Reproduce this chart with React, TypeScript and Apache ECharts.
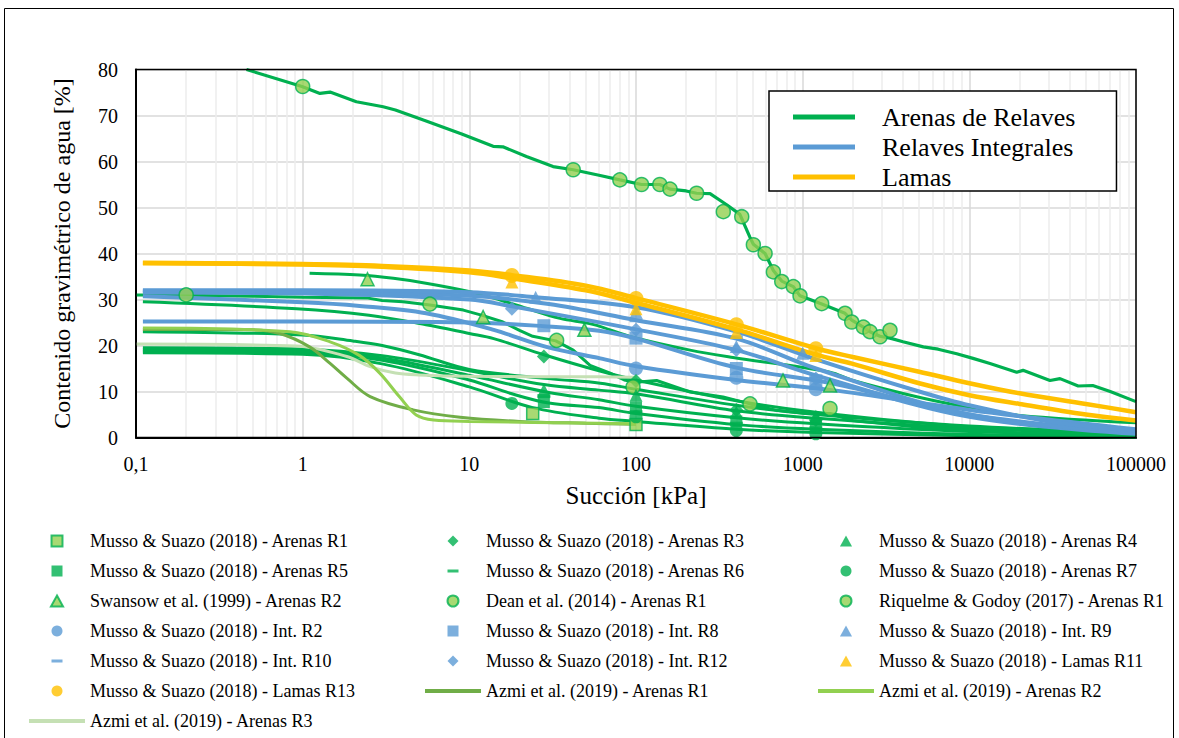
import React, { useEffect, useRef } from 'react';
import * as echarts from 'echarts';

const FONT = 'Liberation Serif';
const GREEN = '#00B050';
const LGREEN = '#92D050';
const BLUE = '#5B9BD5';
const YELLOW = '#FFC000';
const AZ1 = '#70AD47';
const AZ2 = '#92D050';
const AZ3 = '#C5E0B4';

// ---- axis ticks ----
const xTicks = [0.1, 1, 10, 100, 1000, 10000, 100000];
const yTicks = [0, 10, 20, 30, 40, 50, 60, 70, 80];
const minorX = [0.2, 0.3, 0.4, 0.5, 0.6, 0.7, 0.8, 0.9, 2, 3, 4, 5, 6, 7, 8, 9, 20, 30, 40, 50, 60, 70, 80, 90,
  200, 300, 400, 500, 600, 700, 800, 900, 2000, 3000, 4000, 5000, 6000, 7000, 8000, 9000,
  20000, 30000, 40000, 50000, 60000, 70000, 80000, 90000];

// ---- fitted curves: Arenas de Relaves (green) ----
const fitDean = [[0.46, 80], [0.99, 76.3], [1.27, 74.8], [1.46, 75.1], [2.1, 73], [3.04, 71.9], [3.6, 71.2], [5.3, 69], [9, 66], [13.9, 63.3], [15.9, 63.2], [22, 61.1], [31.8, 58.9], [42, 58.2], [60, 57], [80, 56], [108, 55], [139, 55], [160, 54], [200, 53.6], [231, 53.1], [278, 53], [350, 50.6], [420, 48.5], [483, 43.5], [506, 42], [595, 40], [667, 36.3], [749, 34], [879, 32.8], [964, 30.8], [1107, 30], [1301, 29], [1796, 27], [1970, 25.5], [2312, 24], [2535, 23], [2911, 22], [3342, 21.6], [4000, 20.8], [5297, 19.7], [6500, 19.2], [8399, 18.2], [10520, 17.2], [13300, 16.1], [19230, 14.2], [21000, 14.6], [30480, 12.4], [35000, 12.8], [45000, 11.2], [55000, 11.3], [70000, 10], [100000, 7.8]];
const fitWiggly = [[0.1, 31], [0.2, 30.9], [0.5, 30.7], [1, 30.5], [2.47, 30.3], [3, 29.8], [4, 29.5], [5.8, 28.8], [9.2, 27.7], [12.1, 26.5], [15.9, 25.1], [20, 23.3], [24, 22], [33, 21], [42, 19], [53, 15.7], [70, 14], [85, 12.5], [100, 12], [133, 12.4], [211, 9.9], [333, 8.8], [483, 7.3], [698, 5.9], [1057, 5.2], [1459, 5.2], [2004, 3.7], [5000, 2.2], [20000, 1], [100000, 0.4]];
const fitC3 = [[1.1, 35.7], [2.2, 35.3], [3.5, 34.6], [5.6, 33.5], [10.1, 31.7], [15.3, 29.9], [22, 28.1], [35, 25.9], [55, 24.6], [96, 21.8], [211, 19], [382, 17.4], [1459, 14.2], [2004, 12.4], [5058, 8.7], [10100, 6.5], [20140, 4.8], [100000, 3.2]];
const fitArenasR3 = [[0.11, 29.5], [0.92, 28], [2.5, 26.6], [5.5, 24.5], [10, 22.6], [14, 21.5], [28, 18], [60, 14.5], [100, 12.5], [400, 8], [1200, 5.5], [10000, 2.3], [100000, 0.8]];
const fitArenasR5 = [[0.11, 23], [1, 22.3], [2, 21], [3, 20], [5, 18], [10, 14.8], [30, 12.8], [61, 11.8], [100, 10.5], [400, 7], [1200, 5], [10000, 2.5], [100000, 1]];
const fitArenasR4 = [[0.11, 19.5], [1, 19.2], [3, 17.8], [10, 14.5], [28, 11.5], [60, 10.3], [100, 9.5], [400, 5.8], [1200, 4.2], [10000, 2], [100000, 0.8]];
const fitArenasR6 = [[0.11, 19.1], [1, 18.9], [3, 17.3], [10, 13.5], [30, 9.8], [60, 8.2], [100, 6.8], [400, 4.3], [1200, 3], [10000, 1.3], [100000, 0.5]];
const fitArenasR7 = [[0.11, 18.8], [1, 18.5], [3, 16.8], [10, 12.5], [18, 9.5], [30, 7.5], [60, 6.5], [100, 5.2], [400, 2.8], [1200, 1.8], [10000, 0.7], [100000, 0.2]];
const fitArenasR1 = [[0.11, 18.4], [1, 18.1], [3, 16], [10, 11], [24, 6.5], [60, 4.2], [100, 3.5], [400, 1.8], [1200, 1.1], [10000, 0.4], [100000, 0.1]];

// ---- fitted curves: Relaves Integrales (blue) ----
const fitIntR9 = [[0.11, 32], [1, 32], [10, 31.6], [25, 30.5], [100, 28.3], [400, 23], [1200, 17], [5000, 10], [10000, 7], [30000, 3.5], [100000, 1.5]];
const fitIntR10 = [[0.11, 31.8], [1, 31.7], [10, 30.8], [30, 29], [100, 25.5], [400, 21.5], [1200, 15], [10000, 5], [100000, 1]];
const fitIntR12 = [[0.11, 31.5], [1, 31.3], [10, 30], [18, 28.5], [100, 23.5], [400, 19], [1200, 13.5], [10000, 4.5], [100000, 0.8]];
const fitIntR2 = [[0.11, 30.7], [1, 29.4], [2.2, 28.6], [5.5, 27], [14, 23.4], [29, 19.7], [61, 17.2], [100, 15.5], [400, 12.5], [1500, 10.3], [10000, 6], [100000, 1.8]];
const fitIntR8 = [[0.11, 25.2], [1, 25.2], [10, 25], [28, 24.2], [60, 23.2], [100, 21.5], [400, 15.2], [1500, 11.8], [10000, 5], [100000, 1]];

// ---- fitted curves: Lamas (yellow) ----
const fitLamasR13 = [[0.11, 38], [1, 37.7], [3, 37.3], [10, 36.3], [18, 35.3], [50, 33], [100, 30.3], [400, 24.6], [1200, 19.4], [2000, 17.5], [5000, 14.3], [10000, 11.8], [20000, 9.6], [50000, 7.3], [100000, 5.5]];
const fitLamasR11 = [[0.11, 37.9], [1, 37.6], [3, 37.1], [10, 35.9], [18, 34.6], [50, 32], [100, 29.3], [400, 23.5], [1200, 18], [2000, 16], [5000, 11.8], [10000, 9.2], [20000, 7.3], [50000, 5], [100000, 3.7]];

// ---- Azmi et al. (2019) curves ----
const azmiR1 = [[0.11, 23.5], [0.5, 23.4], [0.73, 22.6], [1.1, 19.7], [1.46, 16.1], [1.84, 12.9], [2.54, 8.9], [4.6, 6], [8.8, 4.4], [20, 3.5], [50, 3.1], [100, 2.9]];
const azmiR2 = [[0.11, 23.8], [0.84, 23], [1.46, 20.8], [2.2, 17.8], [2.9, 14], [3.8, 8.9], [4.8, 4.9], [6.1, 3.8], [10, 3.5], [60, 3.1], [100, 3]];
const azmiR3 = [[0.1, 20.3], [0.92, 19.9], [1.84, 17.6], [2.54, 15.4], [3.6, 14], [5, 13.6], [10, 13.3], [60, 13.2], [100, 13.1]];

// ---- measured points ----
const musArenasR1 = [[24, 5.2], [100, 2.8]];
const musArenasR3 = [[28, 17.6], [100, 12.3], [400, 6], [1200, 3.8]];
const musArenasR4 = [[28, 10.3], [100, 9.2], [400, 5.5], [1200, 4.6]];
const musArenasR5 = [[28, 7.7], [100, 6.5], [400, 3.5], [1200, 2.5]];
const musArenasR6 = [[28, 9], [100, 5.5], [400, 3], [1200, 2]];
const musArenasR7 = [[18, 7.4], [100, 4.5], [400, 1.5], [1200, 0.8]];
const swansowR2 = [[2.45, 34.4], [12.1, 26.2], [49, 23.4], [762, 12.4], [1459, 11.3]];
const deanR1 = [[0.2, 31], [1, 76.3], [5.8, 29], [33.4, 21.1], [42, 58.2], [80, 56], [96, 11], [108, 55], [139, 55], [160, 54], [231, 53.1], [334, 49.1], [431, 48], [483, 7.3]];
const riquelmeR1 = [[506, 41.9], [595, 40], [667, 36], [749, 33.9], [879, 32.8], [964, 30.8], [1301, 29.1], [1459, 6.3], [1796, 27], [1970, 25.1], [2312, 24], [2535, 23], [2911, 21.9], [3342, 23.3]];
const musIntR2 = [[100, 15], [400, 13], [1200, 10.5]];
const musIntR8 = [[28, 24.3], [100, 21.6], [400, 15], [1200, 11.8]];
const musIntR9 = [[25, 30.5], [100, 27.3], [400, 19.8], [1000, 18.3]];
const musIntR10 = [[100, 25.5], [400, 21.8], [1200, 13.3]];
const musIntR12 = [[18, 28], [100, 23.4], [400, 19], [1200, 12.8]];
const musLamasR11 = [[18, 33.8], [100, 28], [400, 22.8], [1200, 17.8]];
const musLamasR13 = [[18, 35.2], [100, 30.2], [400, 24.5], [1200, 19.3]];

// ---- legend names ----
const GROUP_A = 'Arenas de Relaves';
const GROUP_I = 'Relaves Integrales';
const GROUP_L = 'Lamas';
const N = {
  aR1: 'Musso & Suazo (2018) - Arenas R1',
  aR3: 'Musso & Suazo (2018) - Arenas R3',
  aR4: 'Musso & Suazo (2018) - Arenas R4',
  aR5: 'Musso & Suazo (2018) - Arenas R5',
  aR6: 'Musso & Suazo (2018) - Arenas R6',
  aR7: 'Musso & Suazo (2018) - Arenas R7',
  sw: 'Swansow et al. (1999) - Arenas R2',
  dean: 'Dean et al. (2014) - Arenas R1',
  riq: 'Riquelme & Godoy (2017) - Arenas R1',
  iR2: 'Musso & Suazo (2018) - Int. R2',
  iR8: 'Musso & Suazo (2018) - Int. R8',
  iR9: 'Musso & Suazo (2018) - Int. R9',
  iR10: 'Musso & Suazo (2018) - Int. R10',
  iR12: 'Musso & Suazo (2018) - Int. R12',
  lR11: 'Musso & Suazo (2018) - Lamas R11',
  lR13: 'Musso & Suazo (2018) - Lamas R13',
  az1: 'Azmi et al. (2019) - Arenas R1',
  az2: 'Azmi et al. (2019) - Arenas R2',
  az3: 'Azmi et al. (2019) - Arenas R3',
};

const ICON_SQ = 'path://M0,0L10,0L10,10L0,10Z';
const ICON_TRI = 'path://M5.5,0L11,10L0,10Z';
const ICON_DIA = 'path://M5.5,0L11,5.5L5.5,11L0,5.5Z';
const ICON_DASH = 'path://M0,0L0.01,0M0,4L11,4L11,7L0,7ZM0,11L0.01,11';
const ICON_LINE = 'path://M0,0L56,0L56,4L0,4Z';
const ICON_BOX = 'path://M0,0L62,0L62,5L0,5ZM84,0L84.01,0';

function fit(name: string, data: number[][], color: string, width: number, smooth: number | boolean = 0.35) {
  return {
    type: 'line', name, data, symbol: 'none', showSymbol: false, smooth,
    lineStyle: { color, width }, itemStyle: { color }, z: 2, silent: true,
  };
}
function pts(name: string, data: number[][], symbol: string, size: any, color: string, border?: string) {
  return {
    type: 'scatter', name, data, symbol, symbolSize: size,
    itemStyle: { color, borderColor: border || color, borderWidth: border ? 1.5 : 0 }, z: 5, silent: true,
  };
}

function buildOption() {
  const series: any[] = [
    {
      type: 'line', name: '__minor', data: [], silent: true, z: 1,
      markLine: {
        silent: true, z: 1, symbol: ['none', 'none'], label: { show: false },
        lineStyle: { color: '#EDEDED', width: 1.5, type: 'solid' },
        emphasis: { disabled: true },
        data: minorX.map((v) => ({ xAxis: v })),
      },
    },
    fit(GROUP_A, fitArenasR1, GREEN, 3),
    fit(GROUP_A, fitArenasR7, GREEN, 3),
    fit(GROUP_A, fitArenasR6, GREEN, 3),
    fit(GROUP_A, fitArenasR4, GREEN, 3),
    fit(GROUP_A, fitArenasR5, GREEN, 3),
    fit(GROUP_A, fitArenasR3, GREEN, 3),
    fit(GROUP_A, fitC3, GREEN, 3),
    fit(GROUP_A, fitWiggly, GREEN, 3, false),
    fit(GROUP_A, fitDean, GREEN, 3.2, false),
    fit(GROUP_I, fitIntR8, BLUE, 4),
    fit(GROUP_I, fitIntR2, BLUE, 4),
    fit(GROUP_I, fitIntR12, BLUE, 4),
    fit(GROUP_I, fitIntR10, BLUE, 4),
    fit(GROUP_I, fitIntR9, BLUE, 4),
    fit(GROUP_L, fitLamasR11, YELLOW, 4.5),
    fit(GROUP_L, fitLamasR13, YELLOW, 4.5),
    { ...fit(N.az3, azmiR3, AZ3, 3), z: 3 },
    { ...fit(N.az1, azmiR1, AZ1, 3), z: 3 },
    { ...fit(N.az2, azmiR2, AZ2, 3), z: 3 },
    pts(N.aR1, musArenasR1, 'rect', 12, LGREEN, GREEN),
    pts(N.aR5, musArenasR5, 'rect', 12, GREEN),
    pts(N.sw, swansowR2, 'triangle', 13, LGREEN, GREEN),
    pts(N.iR2, musIntR2, 'circle', 14, BLUE),
    pts(N.iR10, musIntR10, 'rect', [13, 4], BLUE),
    pts(N.lR13, musLamasR13, 'circle', 15, YELLOW),
    pts(N.aR3, musArenasR3, 'diamond', 14, GREEN),
    pts(N.aR6, musArenasR6, 'rect', [13, 4], GREEN),
    pts(N.dean, deanR1, 'circle', 14, LGREEN, GREEN),
    pts(N.iR8, musIntR8, 'rect', 13, BLUE),
    pts(N.iR12, musIntR12, 'diamond', 14, BLUE),
    pts(N.aR4, musArenasR4, 'triangle', 13, GREEN),
    pts(N.aR7, musArenasR7, 'circle', 13, GREEN),
    pts(N.riq, riquelmeR1, 'circle', 14, LGREEN, GREEN),
    pts(N.iR9, musIntR9, 'triangle', 13, BLUE),
    pts(N.lR11, musLamasR11, 'triangle', 13, YELLOW),
  ];

  const legendBase = {
    orient: 'vertical', top: 532, padding: 0, itemGap: 12, itemWidth: 56, itemHeight: 11,
    selectedMode: false,
    textStyle: { fontFamily: FONT, fontSize: 18, color: '#000' },
  };

  return {
    animation: false,
    backgroundColor: '#ffffff',
    textStyle: { fontFamily: FONT },
    grid: { left: 136, top: 69.5, width: 1000, height: 368, containLabel: false },
    xAxis: {
      type: 'log', logBase: 10, min: xTicks[0], max: xTicks[xTicks.length - 1], splitNumber: xTicks.length - 1,
      name: 'Succión [kPa]', nameLocation: 'middle', nameGap: 45,
      nameTextStyle: { fontFamily: FONT, fontSize: 25, color: '#000' },
      axisLine: { show: true, onZero: false, lineStyle: { color: '#000', width: 2 } },
      axisTick: { show: false },
      axisLabel: {
        fontFamily: FONT, fontSize: 20, color: '#000', margin: 16,
        formatter: (v: number) => (v < 1 ? '0,1' : String(Math.round(v))),
      },
      splitLine: { show: true, lineStyle: { color: '#D9D9D9', width: 1.5 } },
    },
    yAxis: {
      type: 'value', min: yTicks[0], max: yTicks[yTicks.length - 1], interval: 10,
      name: 'Contenido gravimétrico de agua [%]', nameLocation: 'middle', nameGap: 62, nameRotate: 90,
      nameTextStyle: { fontFamily: FONT, fontSize: 24, color: '#000' },
      axisLine: { show: true, lineStyle: { color: '#000', width: 2 } },
      axisTick: { show: false },
      axisLabel: { fontFamily: FONT, fontSize: 20, color: '#000', margin: 18 },
      splitLine: { show: true, lineStyle: { color: '#D9D9D9', width: 1.5 } },
    },
    legend: [
      {
        orient: 'vertical', left: 769, top: 91, padding: [13, 41, 1, 24], itemGap: 4,
        itemWidth: 84, itemHeight: 26, selectedMode: false,
        borderColor: '#000', borderWidth: 1.5, backgroundColor: '#ffffff',
        textStyle: { fontFamily: FONT, fontSize: 26, color: '#000' },
        data: [
          { name: GROUP_A, icon: ICON_BOX },
          { name: GROUP_I, icon: ICON_BOX },
          { name: GROUP_L, icon: ICON_BOX },
        ],
      },
      {
        ...legendBase, left: 29,
        data: [
          { name: N.aR1, icon: ICON_SQ }, { name: N.aR5, icon: ICON_SQ }, { name: N.sw, icon: ICON_TRI },
          { name: N.iR2, icon: 'circle' }, { name: N.iR10, icon: ICON_DASH }, { name: N.lR13, icon: 'circle' },
          { name: N.az3, icon: ICON_LINE },
        ],
      },
      {
        ...legendBase, left: 425,
        data: [
          { name: N.aR3, icon: ICON_DIA }, { name: N.aR6, icon: ICON_DASH }, { name: N.dean, icon: 'circle' },
          { name: N.iR8, icon: ICON_SQ }, { name: N.iR12, icon: ICON_DIA }, { name: N.az1, icon: ICON_LINE },
        ],
      },
      {
        ...legendBase, left: 818,
        data: [
          { name: N.aR4, icon: ICON_TRI }, { name: N.aR7, icon: 'circle' }, { name: N.riq, icon: 'circle' },
          { name: N.iR9, icon: ICON_TRI }, { name: N.lR11, icon: ICON_TRI }, { name: N.az2, icon: ICON_LINE },
        ],
      },
    ],
    graphic: [
      { type: 'rect', silent: true, z: 100, shape: { x: 136, y: 69.5, width: 1000, height: 368 }, style: { fill: 'none', stroke: '#000', lineWidth: 1.5 } },
      { type: 'rect', silent: true, z: 100, shape: { x: 4.5, y: 8.5, width: 1169, height: 740 }, style: { fill: 'none', stroke: '#000', lineWidth: 1 } },
    ],
    series,
  };
}

export default function App() {
  const ref = useRef<HTMLDivElement>(null);
  useEffect(() => {
    if (!ref.current) return;
    const chart = echarts.init(ref.current, null, { renderer: 'svg' });
    chart.setOption(buildOption() as any);
    return () => chart.dispose();
  }, []);
  return (
    <div
      ref={ref}
      style={{ position: 'fixed', left: 0, top: 0, width: 1179, height: 738, background: '#fff' }}
    />
  );
}
